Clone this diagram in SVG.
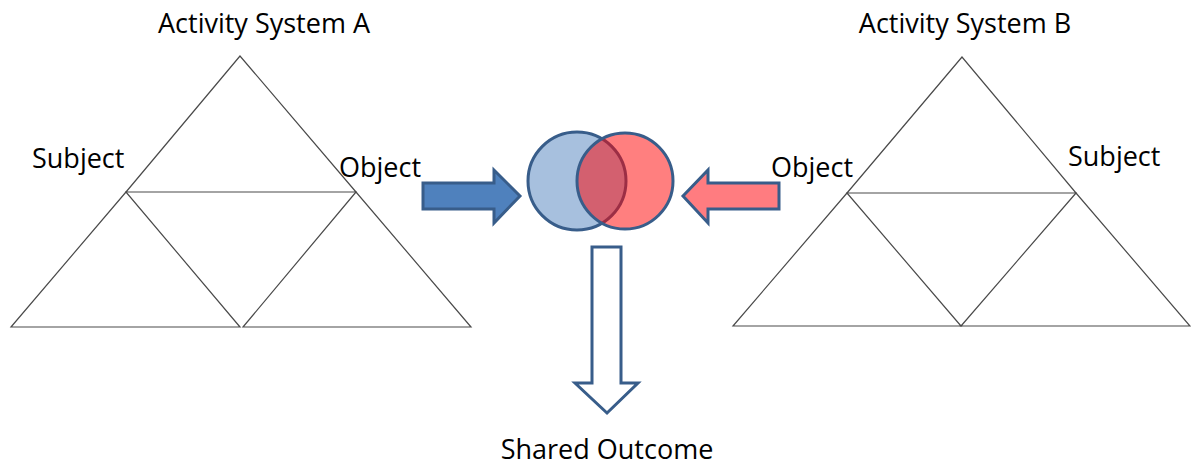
<svg xmlns="http://www.w3.org/2000/svg" width="1191" height="466" viewBox="0 0 1191 466">
  <style>
    .tri { fill: none; stroke: #4a4a4a; stroke-width: 1.2; stroke-linejoin: miter; }
    .lbl { font-family: "Open Sans", "Liberation Sans", sans-serif; font-size: 27px; fill: #000; }
    .edge { stroke: #385D8A; stroke-width: 3; stroke-linejoin: miter; }
  </style>
  <rect width="1191" height="466" fill="#fff"/>

  <!-- Activity system A -->
  <g id="system-a">
    <polygon class="tri" points="240,56 126,192 356,192"/>
    <polygon class="tri" points="126,192 11,327 240,327"/>
    <polygon class="tri" points="356,192 243,327 471,327"/>
    <text class="lbl" x="264" y="33" text-anchor="middle">Activity System A</text>
    <text class="lbl" x="32" y="168">Subject</text>
    <text class="lbl" x="339" y="177">Object</text>
  </g>

  <!-- Activity system B -->
  <g id="system-b">
    <polygon class="tri" points="962,57 847,193 1076,193"/>
    <polygon class="tri" points="847,193 733,326 961,326"/>
    <polygon class="tri" points="1076,193 961,326 1190,326"/>
    <text class="lbl" x="965" y="33" text-anchor="middle">Activity System B</text>
    <text class="lbl" x="1068" y="166">Subject</text>
    <text class="lbl" x="771" y="177">Object</text>
  </g>

  <!-- Overlapping objects -->
  <g id="shared-object">
    <circle class="edge" cx="577" cy="181" r="49" fill="#4F81BD" fill-opacity="0.5"/>
    <circle class="edge" cx="625" cy="181" r="48" fill="#FF0000" fill-opacity="0.5"/>
  </g>

  <!-- Outcome label -->
  <g id="outcome">
    <text class="lbl" x="607" y="459" text-anchor="middle">Shared Outcome</text>
  </g>

  <!-- Connectors -->
  <g id="connectors">
    <polygon class="edge" fill="#4F81BD" points="423,183 494,183 494,170 520,196 494,223 494,209 423,209"/>
    <polygon class="edge" fill="#FF7C80" points="779,183 708,183 708,170 683,196 708,223 708,209 779,209"/>
    <polygon class="edge" fill="#FFFFFF" points="592,247 621,247 621,383 638,383 607,413 575,383 592,383"/>
  </g>
</svg>
